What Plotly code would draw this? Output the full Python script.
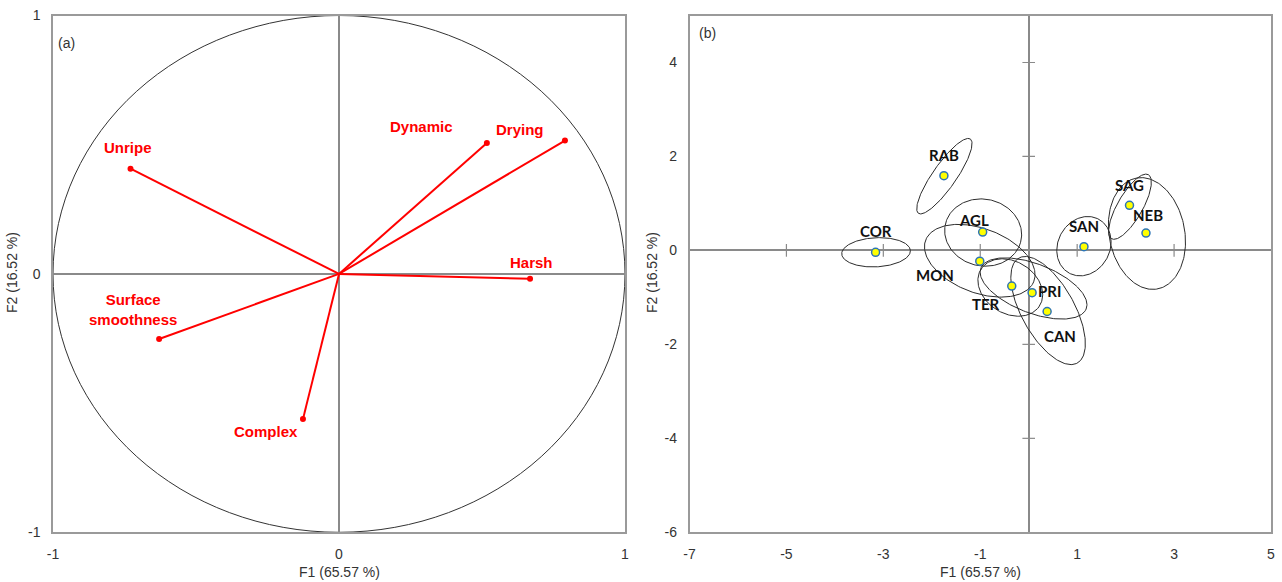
import numpy as np
import plotly.graph_objects as go

# ---------------- Data ----------------
# (a) Correlation circle: variable loadings on F1/F2
var_names = ["Unripe", "Dynamic", "Drying", "Harsh", "Surface<br>smoothness", "Complex"]
var_f1 = [-0.729, 0.517, 0.790, 0.668, -0.629, -0.126]
var_f2 = [0.407, 0.507, 0.516, -0.019, -0.252, -0.562]
var_lab_dx = [-3, -65, -45, 1, -26, -37]   # label pixel offsets
var_lab_dy = [21, 16, 11, 16, 30, -12]

# (b) Product scores on F1/F2
prod_names = ["COR", "RAB", "AGL", "MON", "TER", "PRI", "CAN", "SAN", "SAG", "NEB"]
prod_f1 = [-3.16, -1.75, -0.95, -1.01, -0.35, 0.07, 0.38, 1.14, 2.08, 2.42]
prod_f2 = [-0.04, 1.59, 0.39, -0.23, -0.76, -0.90, -1.30, 0.08, 0.96, 0.37]
prod_lab_dx = [0, 0, -9, -45, -26, 17, 13, 0, 0, 2]
prod_lab_dy = [21, 21, 12, -14, -18, 2, -25, 21, 20, 18]

# confidence ellipses (center, semi-axes, rotation in degrees)
ell_cx = [-3.15, -1.74, -0.94, -1.01, -0.38, 0.10, 0.40, 1.14, 2.09, 2.44]
ell_cy = [-0.04, 1.58, 0.38, -0.22, -0.79, -0.81, -1.28, 0.09, 0.93, 0.36]
ell_a = [0.71, 0.955, 0.80, 1.20, 0.72, 1.17, 1.27, 0.65, 0.78, 1.20]
ell_b = [0.31, 0.245, 0.71, 0.68, 0.55, 0.52, 0.55, 0.54, 0.26, 0.78]
ell_ang = [3, 56, -15, -22, -35, -22, -62, 65, 61, 100]

left_ticks = [-1, 0, 1]
left_ticktext = ["-1", "0", "1"]
right_xticks = [-7, -5, -3, -1, 1, 3, 5]
right_xticktext = ["-7", "-5", "-3", "-1", "1", "3", "5"]
right_yticks = [-6, -4, -2, 0, 2, 4]
right_yticktext = ["-6", "-4", "-2", "0", "2", "4"]
axis_ticks_x = [-5, -3, -1, 1, 3]
axis_ticks_y = [-4, -2, 2, 4]

# ---------------- Styling ----------------
W, H = 1282, 582
TICKFONT = dict(family="Liberation Sans, Arial", size=14, color="#333333")
RED = "#ff0000"
FRAME = "#9a9a9a"
ZERO = "#8a8a8a"

fig = go.Figure()

# ---- panel (a) ----
vx, vy = [], []
for x, y in zip(var_f1, var_f2):
    vx += [0, x, None]
    vy += [0, y, None]
fig.add_trace(go.Scatter(x=vx, y=vy, mode="lines", line=dict(color=RED, width=2),
                         xaxis="x", yaxis="y", hoverinfo="skip", showlegend=False))
fig.add_trace(go.Scatter(x=var_f1, y=var_f2, mode="markers",
                         marker=dict(color=RED, size=6), xaxis="x", yaxis="y",
                         showlegend=False))
fig.add_shape(type="circle", xref="x", yref="y", x0=-1, x1=1, y0=-1, y1=1,
              line=dict(color="#333333", width=1), layer="below")

for n, x, y, dx, dy in zip(var_names, var_f1, var_f2, var_lab_dx, var_lab_dy):
    fig.add_annotation(x=x, y=y, xref="x", yref="y", text=n, showarrow=False,
                       xshift=dx, yshift=dy, align="center", xanchor="center", yanchor="middle",
                       font=dict(family="Liberation Sans, Arial", size=15, color=RED, weight="bold"))

# ---- panel (b) ----
t = np.linspace(0, 2 * np.pi, 200)
for cx, cy, a, b, ang in zip(ell_cx, ell_cy, ell_a, ell_b, ell_ang):
    th = np.deg2rad(ang)
    ex = cx + a * np.cos(t) * np.cos(th) - b * np.sin(t) * np.sin(th)
    ey = cy + a * np.cos(t) * np.sin(th) + b * np.sin(t) * np.cos(th)
    fig.add_trace(go.Scatter(x=ex, y=ey, mode="lines", line=dict(color="#2b2b2b", width=1),
                             xaxis="x2", yaxis="y2", hoverinfo="skip", showlegend=False))

# small tick marks on the zero axes
fig.add_trace(go.Scatter(x=axis_ticks_x, y=[0] * len(axis_ticks_x), mode="markers",
                         marker=dict(symbol="line-ns", size=9, line=dict(color=ZERO, width=1.2)),
                         xaxis="x2", yaxis="y2", hoverinfo="skip", showlegend=False))
fig.add_trace(go.Scatter(x=[0] * len(axis_ticks_y), y=axis_ticks_y, mode="markers",
                         marker=dict(symbol="line-ew", size=9, line=dict(color=ZERO, width=1.2)),
                         xaxis="x2", yaxis="y2", hoverinfo="skip", showlegend=False))

fig.add_trace(go.Scatter(x=prod_f1, y=prod_f2, mode="markers",
                         marker=dict(color="#ffff00", size=8, line=dict(color="#2e75b6", width=1.5)),
                         xaxis="x2", yaxis="y2", showlegend=False))

for n, x, y, dx, dy in zip(prod_names, prod_f1, prod_f2, prod_lab_dx, prod_lab_dy):
    fig.add_annotation(x=x, y=y, xref="x2", yref="y2", text=n, showarrow=False,
                       xshift=dx, yshift=dy, xanchor="center", yanchor="middle",
                       font=dict(family="Lato, Open Sans, Arial", size=15, color="#111111", weight="bold"))

# ---------------- Layout ----------------
ydom = [1 - 532.3 / H, 1 - 15.5 / H]
xdom1 = [53 / W, 625 / W]
xdom2 = [689.5 / W, 1271 / W]

common = dict(showgrid=False, zeroline=True, zerolinecolor=ZERO, zerolinewidth=1.5,
              showline=True, linecolor=FRAME, linewidth=1.5, mirror=True, automargin=False,
              ticks="", tickfont=TICKFONT, ticklabelstandoff=8, fixedrange=True)

fig.update_layout(
    width=W, height=H,
    margin=dict(l=0, r=0, t=0, b=0),
    paper_bgcolor="white", plot_bgcolor="white",
    showlegend=False,
    xaxis=dict(domain=xdom1, range=[-1, 1], tickvals=left_ticks, ticktext=left_ticktext,
               anchor="y", **common),
    yaxis=dict(domain=ydom, range=[-1, 1], tickvals=left_ticks, ticktext=left_ticktext,
               anchor="x", **common),
    xaxis2=dict(domain=xdom2, range=[-7, 5], tickvals=right_xticks, ticktext=right_xticktext,
                anchor="y2", **common),
    yaxis2=dict(domain=ydom, range=[-6, 5], tickvals=right_yticks, ticktext=right_yticktext,
                anchor="x2", **common),
)

TITLEFONT = dict(family="Liberation Sans, Arial", size=14, color="#333333")
for xc in [(xdom1[0] + xdom1[1]) / 2, (xdom2[0] + xdom2[1]) / 2]:
    fig.add_annotation(x=xc, y=1 - 572 / H, xref="paper", yref="paper", text="F1 (65.57 %)",
                       showarrow=False, font=TITLEFONT, xanchor="center", yanchor="middle")
for xp in [12 / W, 652 / W]:
    fig.add_annotation(x=xp, y=1 - 273 / H, xref="paper", yref="paper", text="F2 (16.52 %)",
                       showarrow=False, font=TITLEFONT, textangle=-90, xanchor="center", yanchor="middle")

fig.add_annotation(x=66 / W, y=1 - 43 / H, xref="paper", yref="paper", text="(a)", showarrow=False,
                   font=TITLEFONT, xanchor="center", yanchor="middle")
fig.add_annotation(x=708 / W, y=1 - 33 / H, xref="paper", yref="paper", text="(b)", showarrow=False,
                   font=TITLEFONT, xanchor="center", yanchor="middle")

fig.write_html("out.html")
